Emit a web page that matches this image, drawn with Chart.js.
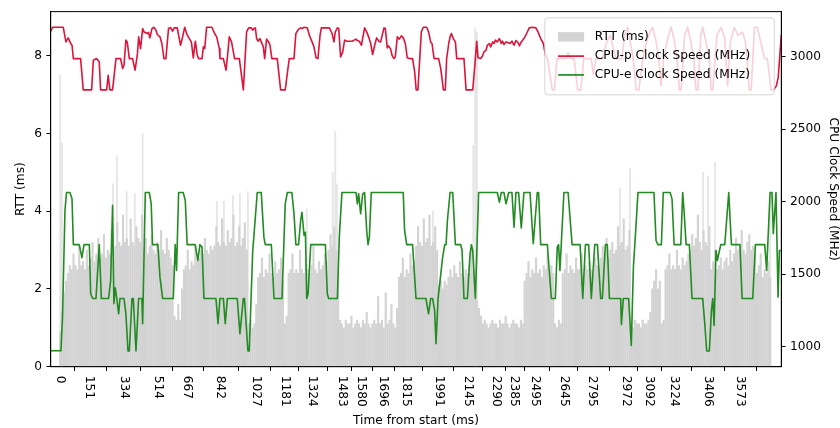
<!DOCTYPE html>
<html>
<head>
<meta charset="utf-8">
<script src="https://cdn.jsdelivr.net/npm/chart.js@4.4.0/dist/chart.umd.min.js"></script>
<style>
  html, body { margin: 0; padding: 0; background: #fff; }
  #wrap { width: 840px; height: 428px; }
</style>
</head>
<body>
<div id="wrap"><canvas id="rttChart" width="840" height="428"></canvas></div>
<script>
// tick labels on the time axis (ms)
const xTickLabels = [0, 151, 334, 514, 667, 842, 1027, 1181, 1324, 1483, 1580, 1696, 1815,
    1991, 2145, 2290, 2385, 2495, 2645, 2795, 2972, 3092, 3224, 3406, 3573];
const rttTicks = [0, 2, 4, 6, 8];
const mhzTicks = [1000, 1500, 2000, 2500, 3000];

// RTT samples, one every 10 ms from t = 0
const rttStep = 10;
const rttValues = [
    0.9, 1.4, 1.9, 2.2, 2.4, 2.6,
    2.5, 2.9, 2.6, 2.5, 3.1, 2.6, 2.7, 2.5, 3.0, 2.6,
    2.8, 3.2, 2.7, 2.9, 3.3, 2.8, 2.9, 3.4, 2.8, 3.0, 2.9, 3.5, 3.0,
    3.1, 3.7, 3.2, 3.1, 3.9, 3.2, 3.3, 3.1, 3.8, 3.2, 3.1, 3.6, 3.3, 3.2, 3.9,
    3.0, 3.3, 2.9, 3.1, 3.4, 3.0, 2.9, 3.2, 3.0, 3.5, 3.0, 2.9, 3.3, 3.0, 2.8, 2.6,
    1.3, 1.2, 1.6, 1.2, 2.0,
    2.5, 2.6, 3.0, 2.5, 2.7, 2.6, 3.1, 2.7, 2.8, 3.0, 2.9, 3.3, 3.0, 2.9, 3.1, 3.0,
    3.1, 3.6, 3.2, 3.1, 3.8, 3.2, 3.1, 3.5, 3.2, 3.3, 3.9, 3.1, 3.2, 3.6, 3.1, 3.3, 3.7, 3.0,
    1.1, 1.2, 1.0, 1.1, 1.6,
    2.3, 2.4, 2.8, 2.3, 2.5, 2.4, 2.9, 2.4, 2.3, 2.7, 2.4, 2.5, 2.8, 2.2,
    1.1, 1.3,
    2.4, 2.5, 2.9, 2.4, 2.5, 2.4, 3.0, 2.5, 2.4, 2.8, 2.5, 2.4, 2.6, 3.1, 2.5, 2.4, 2.7, 2.5, 2.6, 2.9, 2.7,
    3.0, 3.4, 3.1, 3.6, 3.0, 2.4,
    1.2, 1.1, 1.0, 1.2, 1.1, 1.1, 1.3, 1.0, 1.1, 1.2, 1.1, 1.0, 1.2, 1.1, 1.4, 1.1, 1.0, 1.1, 1.2,
    1.1, 1.8, 1.1, 1.2, 1.0, 1.9, 1.1, 1.2, 1.6, 1.1, 1.0, 1.5,
    2.3, 2.4, 2.8, 2.3, 2.5, 2.4, 2.9, 2.6, 2.7,
    3.1, 3.6, 3.2, 3.1, 3.8, 3.2, 3.3, 3.9, 3.1, 3.2, 3.6, 3.0,
    2.1, 2.2, 2.0, 2.2, 2.1,
    2.3, 2.5, 2.3, 2.6, 2.4, 2.3, 2.7, 2.4, 2.3, 2.5, 2.4,
    2.6, 3.0, 2.5, 2.2,
    1.7, 1.5, 1.3,
    1.1, 1.2, 1.1, 1.0, 1.1, 1.2, 1.1, 1.1, 1.0, 1.2, 1.1, 1.1, 1.3, 1.1, 1.0, 1.1, 1.2, 1.1, 1.1, 1.0, 1.2, 1.1,
    2.2, 2.4, 2.7, 2.3, 2.5, 2.4, 2.8, 2.4, 2.5, 2.3, 2.6,
    2.5, 2.9, 2.5, 2.6, 2.4,
    1.1, 1.0, 1.2, 1.1,
    2.4, 2.5, 2.9, 2.4, 2.6, 2.5, 2.4, 2.8, 2.5, 2.5, 2.9, 2.4, 2.6, 2.5, 2.7, 2.5, 2.4, 2.8, 2.6, 2.5,
    2.8, 3.1, 2.9, 3.3, 2.8, 3.0, 3.2, 2.9,
    3.0, 3.6, 3.1, 3.2, 3.8, 3.0, 3.1, 3.5,
    1.1, 1.0, 1.2, 1.1, 1.1, 1.0, 1.2, 1.1, 1.1, 1.2, 1.4,
    2.0, 2.2, 2.5, 2.0, 2.2, 1.1, 1.2,
    2.5, 2.6, 2.9, 2.5, 2.6, 2.5, 3.0, 2.6, 2.5, 2.8, 2.6, 2.7, 2.9,
    3.0, 3.4, 3.1, 3.3, 3.9, 3.2, 3.0, 3.5, 3.2, 3.1, 3.6,
    2.5, 2.7, 3.0, 2.5, 2.6, 2.8, 2.5,
    2.7, 2.8, 2.6, 3.0, 2.7,
    2.9, 3.3, 3.0, 3.1, 3.5, 3.0, 2.9, 3.2, 3.4, 3.0, 3.1, 2.9,
    2.4, 2.6, 2.9, 2.3, 2.5, 2.4, 2.7, 2.3
];

// isolated tall RTT samples (ms from start, ms)
const spikeTimes = [0, 9, 277, 298, 349, 392, 433, 823, 860, 907, 944, 986, 1295, 1431, 1445, 1454,
    1958, 2170, 2180, 2184, 2189, 2941, 2993, 3377, 3403, 3440, 3729];
const spikeValues = [7.5, 5.75, 4.7, 5.4, 4.5, 4.45, 6.0, 4.25, 4.25, 4.4, 4.45, 4.5, 4.05, 5.0, 6.05, 4.7,
    4.0, 5.7, 8.7, 8.5, 8.6, 4.6, 5.1, 5.0, 4.9, 5.25, 4.3];

// CPU clock speed, [ms from start, MHz]
const cpuP = [
    [-50, 3177], [-40, 3204], [16, 3204], [30, 3103], [42, 3131], [55, 3092], [62, 3080], [69, 2988],
    [107, 2988], [121, 2772], [165, 2772], [174, 2977], [191, 2988], [205, 2965], [212, 2772], [244, 2772],
    [252, 2873], [261, 2772], [275, 2772], [293, 2988], [317, 2988], [328, 2919], [335, 2942], [345, 3115],
    [352, 3103], [363, 2988], [380, 2988], [393, 2908], [405, 3011], [412, 3138], [422, 3057], [433, 3195],
    [440, 3172], [447, 3168], [457, 3161], [464, 3168], [471, 3131], [482, 3195], [492, 3204], [503, 3184],
    [510, 3154], [524, 3138], [534, 3092], [545, 2988], [555, 2988], [569, 3195], [580, 3202], [590, 3177],
    [599, 3200], [615, 3200], [622, 3149], [632, 3080], [643, 3138], [654, 3204], [664, 3161], [678, 3126],
    [689, 3103], [699, 2993], [710, 3108], [720, 3011], [727, 2988], [745, 2988], [752, 3069], [759, 3057],
    [769, 3204], [797, 3204], [811, 3161], [822, 3138], [836, 3057], [839, 2988], [857, 2988], [871, 2908],
    [881, 3034], [888, 3138], [900, 3103], [916, 2988], [941, 2988], [962, 2772], [979, 3172], [990, 3200],
    [1004, 3200], [1011, 3184], [1018, 3195], [1025, 3200], [1032, 3126], [1039, 3108], [1049, 3126],
    [1056, 3103], [1067, 3069], [1074, 2988], [1084, 3122], [1095, 3103], [1102, 3080], [1112, 2988],
    [1140, 2988], [1158, 2772], [1182, 2772], [1203, 2988], [1228, 2988], [1238, 3161], [1252, 3191],
    [1263, 3200], [1270, 3195], [1281, 3204], [1298, 3200], [1309, 3149], [1323, 3103], [1333, 3069],
    [1344, 2993], [1354, 2988], [1365, 3149], [1372, 3200], [1414, 3200], [1428, 3161], [1438, 3103],
    [1445, 3172], [1456, 3200], [1463, 3195], [1473, 2999], [1484, 3034], [1494, 3115], [1508, 3108],
    [1533, 3108], [1554, 3122], [1561, 3112], [1571, 3108], [1582, 3080], [1599, 3200], [1610, 3172],
    [1620, 3138], [1631, 3092], [1641, 3016], [1652, 3080], [1662, 3131], [1673, 3108], [1683, 3103],
    [1701, 3200], [1708, 3195], [1718, 3062], [1725, 3076], [1736, 3053], [1743, 3011], [1753, 2988],
    [1760, 2999], [1771, 3138], [1781, 3122], [1792, 3145], [1802, 3131], [1813, 3092], [1823, 2993],
    [1834, 2988], [1851, 2988], [1862, 2896], [1870, 2772], [1879, 2772], [1897, 3172], [1907, 3204],
    [1925, 3204], [1935, 3172], [1946, 3103], [1953, 3092], [1964, 2988], [1988, 2988], [1999, 2919],
    [2013, 2772], [2023, 2772], [2030, 2988], [2041, 3092], [2048, 3138], [2055, 3161], [2065, 3126],
    [2076, 3103], [2083, 2988], [2121, 2988], [2132, 2772], [2167, 2772], [2181, 2988], [2188, 3108],
    [2195, 2993], [2209, 2988], [2219, 3007], [2226, 3034], [2237, 3046], [2244, 3080], [2254, 3092],
    [2261, 3069], [2272, 3103], [2279, 3092], [2286, 3115], [2296, 3103], [2307, 3126], [2317, 3092],
    [2324, 3108], [2331, 3085], [2342, 3103], [2352, 3099], [2363, 3092], [2373, 3108], [2384, 3080],
    [2394, 3112], [2405, 3099], [2412, 3076], [2422, 3103], [2436, 3126], [2450, 3161], [2464, 3200],
    [2482, 3204], [2499, 3200], [2510, 3172], [2524, 3126], [2538, 3092], [2549, 3011], [2560, 2988],
    [2572, 2880], [2585, 2772], [2596, 2772], [2610, 2988], [2660, 2988], [2668, 3030], [2676, 2988],
    [2700, 2988], [2718, 2772], [2735, 2772], [2750, 2988], [2790, 2988], [2800, 2880], [2815, 2988],
    [2850, 2988], [2870, 3100], [2890, 3150], [2905, 3060], [2920, 2988], [2950, 2988], [2965, 3150],
    [2981, 3204], [2995, 3100], [3010, 2988], [3025, 2772], [3040, 2772], [3060, 2988], [3080, 3100],
    [3100, 3180], [3112, 3204], [3128, 3120], [3145, 2988], [3156, 2800], [3170, 2988], [3190, 3120],
    [3209, 3204], [3225, 3120], [3240, 2988], [3253, 2772], [3262, 2772], [3280, 3150], [3296, 3204],
    [3310, 3120], [3328, 2988], [3340, 2772], [3350, 2772], [3365, 3150], [3375, 3204], [3392, 3100],
    [3410, 2988], [3419, 2772], [3428, 2772], [3450, 3150], [3472, 3204], [3490, 3130], [3506, 2800],
    [3520, 3100], [3541, 3204], [3560, 3150], [3585, 3170], [3600, 3100], [3620, 2772], [3630, 2772],
    [3647, 3204], [3662, 3204], [3680, 3100], [3700, 2988], [3715, 2988], [3734, 2772], [3748, 2772],
    [3762, 2800], [3772, 2860], [3788, 3150]
];
const cpuE = [
    [-50, 972], [4, 972], [12, 1204], [25, 1940], [33, 2064], [51, 2064], [62, 2020], [69, 1704],
    [100, 1704], [114, 1614], [125, 1704], [153, 1704], [160, 1365], [170, 1333], [188, 1333], [205, 1704],
    [216, 1333], [254, 1333], [265, 1457], [275, 1975], [282, 1296], [289, 1407], [296, 1342], [307, 1227],
    [314, 1333], [335, 1333], [345, 1227], [356, 970], [363, 970], [377, 1333], [384, 1333], [398, 970],
    [412, 1333], [429, 1333], [433, 1158], [447, 2064], [468, 2064], [478, 1986], [485, 1704], [513, 1704],
    [524, 1480], [538, 1333], [594, 1333], [604, 1704], [611, 1526], [622, 2064], [646, 2064], [657, 2009],
    [667, 1704], [709, 1704], [723, 1595], [734, 1704], [745, 1687], [755, 1333], [818, 1333], [829, 1158],
    [839, 1333], [857, 1333], [867, 1158], [878, 1333], [930, 1333], [944, 1089], [962, 1333], [968, 1333],
    [986, 970], [993, 970], [1011, 1653], [1035, 2064], [1056, 2064], [1070, 1756], [1077, 1704],
    [1109, 1704], [1123, 1333], [1165, 1333], [1182, 1986], [1193, 2064], [1217, 2064], [1228, 1917],
    [1238, 1704], [1252, 1704], [1263, 1871], [1270, 1928], [1281, 1767], [1288, 1790], [1295, 1333],
    [1302, 1365], [1316, 1704], [1393, 1704], [1403, 1365], [1410, 1333], [1456, 1333], [1466, 1756],
    [1480, 2064], [1554, 2064], [1561, 1986], [1568, 2055], [1578, 1917], [1589, 2055], [1599, 2064],
    [1610, 1802], [1617, 1704], [1624, 1756], [1634, 2064], [1802, 2064], [1809, 1802], [1820, 1704],
    [1851, 1704], [1862, 1480], [1869, 1333], [1921, 1333], [1935, 1227], [1946, 1333], [1956, 1333],
    [1967, 1250], [1974, 1020], [1985, 1333], [2009, 1618], [2020, 1704], [2027, 1704], [2034, 1871],
    [2048, 2064], [2062, 2064], [2076, 1704], [2104, 1704], [2111, 1664], [2121, 1333], [2139, 1333],
    [2153, 1641], [2160, 1704], [2167, 1664], [2181, 1333], [2198, 2064], [2296, 2064], [2307, 1997],
    [2317, 2064], [2331, 2064], [2342, 1986], [2356, 2064], [2373, 2064], [2384, 1825], [2394, 2064],
    [2408, 2064], [2422, 1820], [2436, 2064], [2468, 2064], [2485, 1710], [2506, 2064], [2513, 2064],
    [2524, 1704], [2559, 1704], [2569, 1526], [2580, 1333], [2601, 1333], [2611, 1687], [2618, 1704],
    [2625, 1526], [2646, 2064], [2668, 2064], [2689, 1704], [2731, 1704], [2745, 1333], [2759, 1704],
    [2776, 1704], [2790, 1333], [2808, 1704], [2822, 1704], [2839, 1333], [2848, 1333], [2864, 1704],
    [2874, 1704], [2885, 1333], [2944, 1333], [2948, 1154], [2958, 1333], [2986, 1333], [3000, 1009],
    [3011, 1549], [3021, 1756], [3035, 2064], [3119, 2064], [3130, 1733], [3140, 1704], [3158, 1704],
    [3168, 2064], [3204, 2064], [3214, 2020], [3225, 1704], [3260, 1704], [3270, 2064], [3277, 1940],
    [3288, 1704], [3305, 1704], [3319, 1333], [3375, 1333], [3386, 1158], [3396, 970], [3410, 970],
    [3421, 1250], [3428, 1333], [3435, 1147], [3445, 1664], [3452, 1595], [3470, 1704], [3491, 1704],
    [3512, 2064], [3526, 1704], [3571, 1704], [3582, 1333], [3638, 1333], [3652, 1704], [3701, 1704],
    [3711, 1526], [3729, 2064], [3739, 2064], [3746, 1779], [3760, 2064], [3771, 1342], [3778, 1664],
    [3788, 1664]
];

const FONT = "'DejaVu Sans', sans-serif";
const FONT_SIZE = 12.2;
Chart.defaults.font.family = FONT;
Chart.defaults.font.size = FONT_SIZE;
Chart.defaults.color = '#000';

const barGray = '#d3d3d3';
const pColor = '#dc143c';
const eColor = '#228b22';

// axis frame, legend box and rotated time labels
const decorPlugin = {
    id: 'decor',
    afterDatasetsDraw(chart) {
        const { ctx, chartArea: a } = chart;
        ctx.save();
        ctx.strokeStyle = '#000';
        ctx.lineWidth = 1;
        ctx.strokeRect(a.left, a.top, a.right - a.left, a.bottom - a.top);

        // legend
        const bx = a.right - 236.5, by = a.top + 6.2, bw = 229.5, bh = 77;
        ctx.beginPath();
        ctx.roundRect(bx, by, bw, bh, 3);
        ctx.fillStyle = 'rgba(255,255,255,0.8)';
        ctx.fill();
        ctx.strokeStyle = 'rgba(204,204,204,0.8)';
        ctx.stroke();

        const hx = bx + 13.3, hw = 26, tx = bx + 50;
        const rows = [by + 19, by + 38.3, by + 57.1];
        ctx.fillStyle = '#d3d3d3';
        ctx.fillRect(hx, rows[0] - 4.7, hw, 9.4);
        ctx.lineWidth = 1.7;
        ctx.strokeStyle = pColor;
        ctx.beginPath(); ctx.moveTo(hx, rows[1]); ctx.lineTo(hx + hw, rows[1]); ctx.stroke();
        ctx.strokeStyle = eColor;
        ctx.beginPath(); ctx.moveTo(hx, rows[2]); ctx.lineTo(hx + hw, rows[2]); ctx.stroke();

        ctx.fillStyle = '#000';
        ctx.font = FONT_SIZE + 'px ' + FONT;
        ctx.textAlign = 'left';
        ctx.textBaseline = 'middle';
        ctx.fillText('RTT (ms)', tx, rows[0]);
        ctx.fillText('CPU-p Clock Speed (MHz)', tx, rows[1]);
        ctx.fillText('CPU-e Clock Speed (MHz)', tx, rows[2]);
        ctx.restore();
    },
    afterDraw(chart) {
        const { ctx, chartArea: a, scales } = chart;
        ctx.save();
        ctx.fillStyle = '#000';
        ctx.font = FONT_SIZE + 'px ' + FONT;
        ctx.textAlign = 'left';
        ctx.textBaseline = 'middle';
        xTickLabels.forEach(function (v) {
            const px = scales.x.getPixelForValue(v);
            ctx.save();
            ctx.translate(px, a.bottom + 9);
            ctx.rotate(Math.PI / 2);
            ctx.fillText(String(v), 0, 0);
            ctx.restore();
        });
        ctx.restore();
    }
};

const tickGrid = { display: true, drawOnChartArea: false, drawTicks: true, tickLength: 4.3, tickColor: '#000', tickWidth: 1 };
const axisBorder = { display: true, color: '#000', width: 1 };

const ctx = document.getElementById('rttChart').getContext('2d');
new Chart(ctx, {
    type: 'bar',
    data: {
        datasets: [
            {
                type: 'line',
                label: 'CPU-p Clock Speed (MHz)',
                data: cpuP.map(p => ({ x: p[0], y: p[1] })),
                yAxisID: 'y1',
                borderColor: pColor,
                borderWidth: 1.6,
                pointRadius: 0,
                tension: 0,
                borderJoinStyle: 'round',
                order: 0
            },
            {
                type: 'line',
                label: 'CPU-e Clock Speed (MHz)',
                data: cpuE.map(p => ({ x: p[0], y: p[1] })),
                yAxisID: 'y1',
                borderColor: eColor,
                borderWidth: 1.6,
                pointRadius: 0,
                tension: 0,
                borderJoinStyle: 'round',
                order: 1
            },
            {
                label: 'RTT (ms)',
                data: rttValues.map((v, i) => ({ x: i * rttStep, y: v })),
                yAxisID: 'y',
                backgroundColor: barGray,
                borderWidth: 0,
                barThickness: 1.5,
                grouped: false,
                order: 2
            },
            {
                label: 'RTT spikes',
                data: spikeTimes.map((t, i) => ({ x: t, y: spikeValues[i] })),
                yAxisID: 'y',
                backgroundColor: '#e6e6e6',
                borderWidth: 0,
                barThickness: 1.2,
                grouped: false,
                order: 3
            }
        ]
    },
    options: {
        responsive: false,
        animation: false,
        devicePixelRatio: 1,
        layout: { padding: { top: 11, left: 0, right: 0, bottom: 0 } },
        plugins: {
            legend: { display: false },
            tooltip: { enabled: false }
        },
        scales: {
            x: {
                type: 'linear',
                position: 'bottom',
                min: -50,
                max: 3788,
                offset: false,
                grid: tickGrid,
                border: axisBorder,
                ticks: { display: false },
                afterBuildTicks: function (s) { s.ticks = xTickLabels.map(v => ({ value: v })); },
                afterFit: function (s) { s.height = 61.3; },
                title: { display: true, text: 'Time from start (ms)', padding: 0 }
            },
            y: {
                type: 'linear',
                position: 'left',
                min: 0,
                max: 9.13,
                grid: tickGrid,
                border: axisBorder,
                ticks: { padding: 4.3, callback: v => String(v) },
                afterBuildTicks: function (s) { s.ticks = rttTicks.map(v => ({ value: v })); },
                afterFit: function (s) { s.width = 50.7; },
                title: { display: true, text: 'RTT (ms)', padding: { top: 13.5 } }
            },
            y1: {
                type: 'linear',
                position: 'right',
                min: 862,
                max: 3312,
                grid: tickGrid,
                border: axisBorder,
                ticks: { padding: 4.3, callback: v => String(v) },
                afterBuildTicks: function (s) { s.ticks = mhzTicks.map(v => ({ value: v })); },
                afterFit: function (s) { s.width = 58.7; },
                title: { display: true, text: 'CPU Clock Speed (MHz)', padding: { top: 0 } }
            }
        }
    },
    plugins: [decorPlugin]
});
</script>
</body>
</html>
